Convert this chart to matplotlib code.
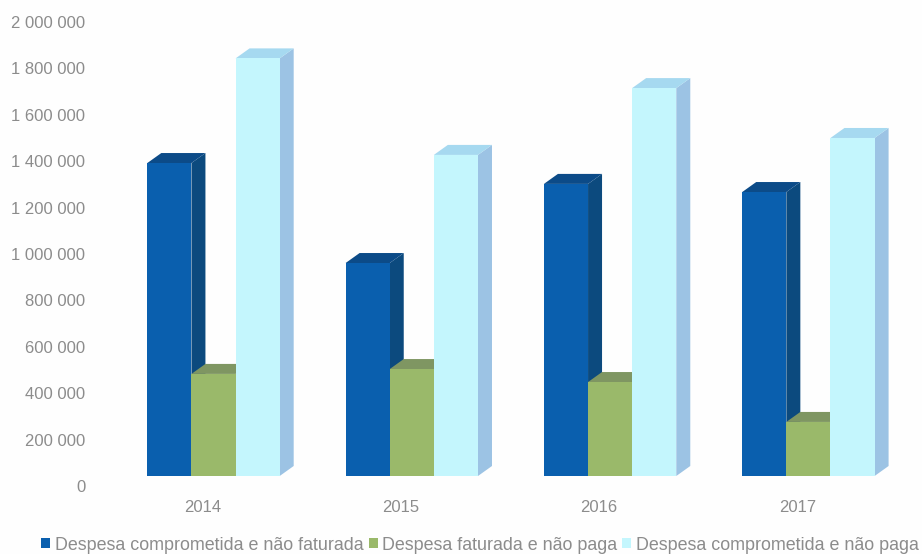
"""
Grouped pseudo-3D bar chart of Despesa values, 2014-2017.
"""

import matplotlib
matplotlib.use("Agg")
import matplotlib.pyplot as plt
from matplotlib.patches import Patch, Polygon
from matplotlib.transforms import ScaledTranslation

YEARS = ["2014", "2015", "2016", "2017"]
SERIES_NAMES = [
    "Despesa comprometida e não faturada",
    "Despesa faturada e não paga",
    "Despesa comprometida e não paga",
]
COMPROMETIDA_NAO_FATURADA = [1349000, 918000, 1259000, 1224000]
FATURADA_NAO_PAGA = [440000, 461000, 405000, 233000]
COMPROMETIDA_NAO_PAGA = [1800000, 1384000, 1672000, 1457000]
Y_TICKS = list(range(0, 2000001, 200000))

FRONT = ["#0a5fae", "#9ab96a", "#c4f6fd"]
TOP = ["#0c4b88", "#7f9662", "#a6d9f0"]
SIDE = ["#0c4a7e", "#7f9662", "#9cc3e4"]
TEXT = "#8c8c8c"

W, H, DPI = 922, 554, 100
DX, DY = 14, 10  # depth of the bars, in pixels
BAR_W = 0.2225
GROUP_PX = 198.3


def fmt(v):
    return f"{v:,}".replace(",", " ")


def main():
    plt.rcParams["font.family"] = ["Liberation Sans", "DejaVu Sans"]
    fig = plt.figure(figsize=(W / DPI, H / DPI), dpi=DPI, facecolor="#fefefe")

    # axes box in pixels: x0 is the first group centre minus half a group
    left = 213.5 - GROUP_PX / 2
    bottom = H - 476
    top_px = 12
    ax = fig.add_axes([left / W, bottom / H, GROUP_PX * 4 / W, (476 - top_px) / H])
    ax.set_xlim(-0.5, 3.5)
    ax.set_ylim(0, 2000000)
    ax.patch.set_alpha(0)
    for s in ax.spines.values():
        s.set_visible(False)

    px_x = 1 / GROUP_PX
    px_y = 2000000 / (476 - top_px)
    dx, dy = DX * px_x, DY * px_y

    all_vals = [COMPROMETIDA_NAO_FATURADA, FATURADA_NAO_PAGA, COMPROMETIDA_NAO_PAGA]
    for s, vals in enumerate(all_vals):
        for i, v in enumerate(vals):
            x0 = i + (s - 1.5) * BAR_W
            x1 = x0 + BAR_W
            ax.add_patch(Polygon([(x1, 0), (x1 + dx, dy), (x1 + dx, v + dy), (x1, v)],
                                 facecolor=SIDE[s], edgecolor="none", zorder=3 + s))
            ax.add_patch(Polygon([(x0, v), (x0 + dx, v + dy), (x1 + dx, v + dy), (x1, v)],
                                 facecolor=TOP[s], edgecolor="none", zorder=3 + s))
        xs = [i + (s - 1) * BAR_W for i in range(len(vals))]
        ax.bar(xs, vals, width=BAR_W, color=FRONT[s], zorder=3 + s + 0.5)

    ax.set_xticks(range(len(YEARS)))
    ax.set_xticklabels(YEARS, fontsize=12, color=TEXT)
    ax.set_yticks(Y_TICKS)
    ax.set_yticklabels([fmt(v) for v in Y_TICKS], fontsize=12, color=TEXT)
    ax.tick_params(axis="both", length=0)
    ax.tick_params(axis="x", pad=17)
    ax.tick_params(axis="y", pad=21)

    # labels sit ten pixels under their nominal level, as on the 3D wall
    shift = ScaledTranslation(0, -10 / DPI, fig.dpi_scale_trans)
    for lab in ax.get_yticklabels():
        lab.set_transform(lab.get_transform() + shift)
    shift_x = ScaledTranslation(-11 / DPI, 0, fig.dpi_scale_trans)
    for lab in ax.get_xticklabels():
        lab.set_transform(lab.get_transform() + shift_x)

    handles = [Patch(facecolor=c, edgecolor="none") for c in FRONT]
    fig.legend(
        handles, SERIES_NAMES, loc="center", bbox_to_anchor=(480 / W, 1 - 545 / H),
        ncol=3, frameon=False, fontsize=12.85, labelcolor=TEXT,
        handlelength=0.5, handleheight=0.5, handletextpad=0.25, columnspacing=0.3,
        borderpad=0, borderaxespad=0,
    )

    fig.savefig("out.png", dpi=DPI, facecolor=fig.get_facecolor())


if __name__ == "__main__":
    main()
